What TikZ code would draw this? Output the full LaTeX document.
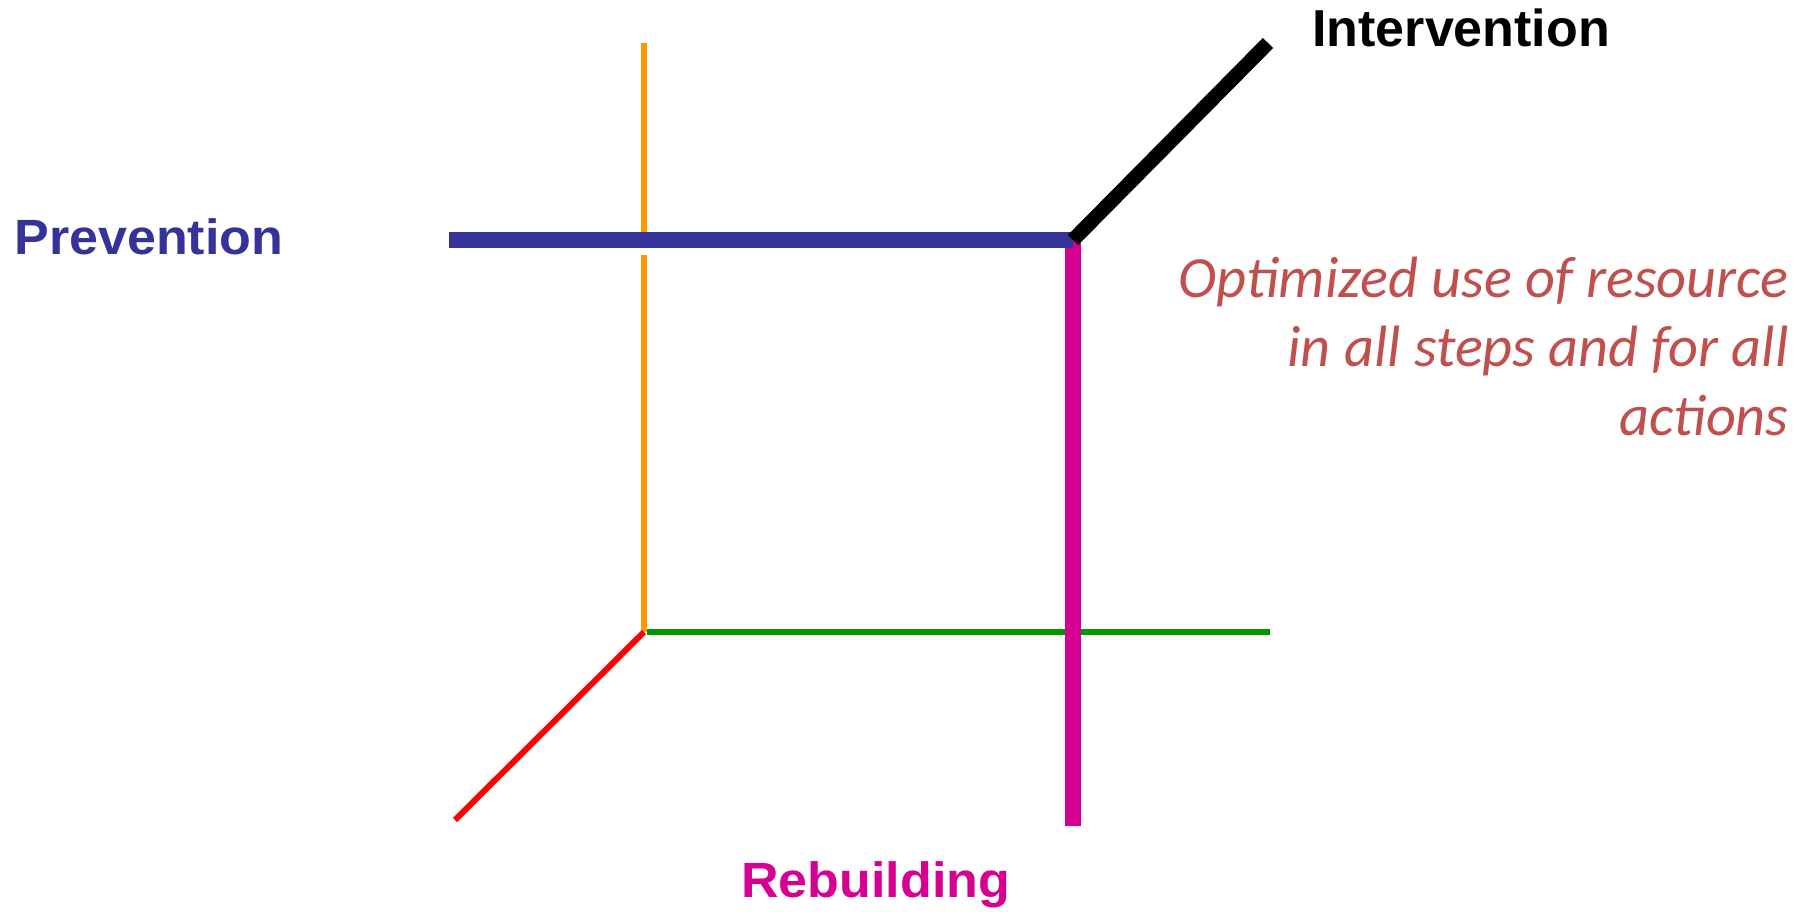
\documentclass[tikz,border=0pt]{standalone}
\usepackage{fontspec}
\setmainfont{Liberation Sans}
\newfontfamily\notefont{Carlito}
\newfontfamily\widefont[FakeStretch=1.05]{Liberation Sans}
\definecolor{prevblue}{RGB}{51,51,153}
\definecolor{rebmagenta}{RGB}{214,0,147}
\definecolor{axorange}{RGB}{255,153,0}
\definecolor{axgreen}{RGB}{0,153,0}
\definecolor{notered}{RGB}{192,80,77}
\tikzset{
  thinaxis/.style={line width=3.4pt},
  thickaxis/.style={line width=9.1pt},
  axislabel/.style={inner sep=0pt, font=\bfseries\fontsize{29.6}{35}\selectfont},
  notetext/.style={inner sep=0pt, anchor=base east, text=notered,
    font=\notefont\itshape\fontsize{33.2}{40}\selectfont}
}
\begin{document}
\begin{tikzpicture}[x=0.02cm, y=-0.02cm]
  \useasboundingbox (0,0) rectangle (1810,912);
  % corner points of the frame
  \coordinate (orig) at (644,632);
  \coordinate (otop) at (644,43);
  \coordinate (ogapa) at (644,232);
  \coordinate (ogapb) at (644,255);
  \coordinate (gstart) at (647,632);
  \coordinate (gend) at (1270,632);
  \coordinate (rend) at (455,820);
  \coordinate (pstart) at (449,240);
  \coordinate (corner) at (1073,240);
  \coordinate (mtop) at (1073,238);
  \coordinate (mend) at (1073,826);
  \coordinate (iend) at (1268,43);
  % thin axes
  \draw[thinaxis, axorange] (otop) -- (ogapa);
  \draw[thinaxis, axorange] (ogapb) -- (orig);
  \draw[thinaxis, axgreen] (gstart) -- (gend);
  \draw[thinaxis, red] (orig) -- (rend);
  % thick axes
  \draw[thickaxis, rebmagenta] (mtop) -- (mend);
  \draw[thickaxis, prevblue] (pstart) -- (corner);
  \draw[line width=8.2pt, black] (corner) -- (iend);
  % labels
  \node[axislabel, anchor=base west] (interv) at (1312,47) {Intervention};
  \node[axislabel, anchor=base west, text=prevblue,
    font=\widefont\bfseries\fontsize{28.2}{34}\selectfont] (prev) at (14,255) {Prevention};
  \node[axislabel, anchor=base west, text=rebmagenta,
    font=\widefont\bfseries\fontsize{28.2}{34}\selectfont] (rebuild) at (741,897) {Rebuilding};
  \node[notetext] (note1) at (1789,298) {Optimized use of resource};
  \node[notetext] (note2) at (1789,367) {in all steps and for all};
  \node[notetext] (note3) at (1789,436) {actions};
\end{tikzpicture}
\end{document}
